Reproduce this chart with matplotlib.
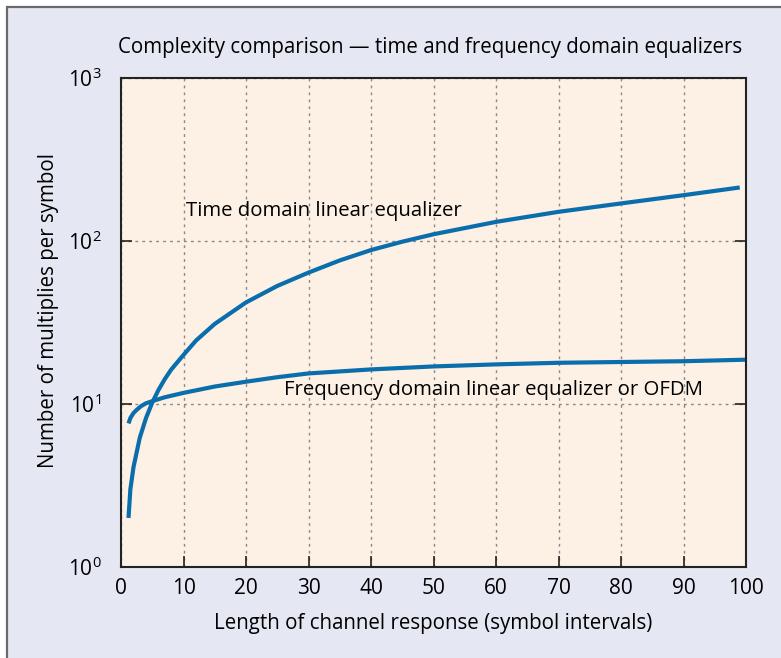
import matplotlib.pyplot as plt
from matplotlib.patches import Rectangle

# channel length (symbol intervals) and multiplies per symbol
time_len = [1.2, 1.5, 2, 3, 4, 5, 6, 7, 8, 10, 12, 15, 20, 25, 30, 35, 40, 45, 50,
            60, 70, 80, 90, 99]
time_mult = [2.0, 3.0, 4.1, 6.2, 8.2, 10.2, 12.2, 14.2, 16.2, 20, 24.5, 31, 42, 53, 64,
             76, 88, 99, 110, 131, 151, 170, 191, 213]

freq_len = [1.2, 1.5, 2.0, 2.5, 3.2, 4.0, 5.3, 7.0, 10, 15, 20, 25, 30, 40, 50, 60,
            70, 80, 90, 100]
freq_mult = [7.6, 8.2, 8.8, 9.2, 9.7, 10.1, 10.5, 11.0, 11.7, 12.8, 13.7, 14.6, 15.4,
             16.3, 17.0, 17.5, 17.9, 18.1, 18.3, 18.7]

x_ticks = [0, 10, 20, 30, 40, 50, 60, 70, 80, 90, 100]
y_ticks = [1, 10, 100, 1000]
y_tick_labels = ['$10^0$', '$10^1$', '$10^2$', '$10^3$']

title = 'Complexity comparison \u2014 time and frequency domain equalizers'
time_label = 'Time domain linear equalizer'
freq_label = 'Frequency domain linear equalizer or OFDM'


def main():
    plt.rcParams['font.family'] = ['Open Sans', 'DejaVu Sans']
    plt.rcParams['mathtext.default'] = 'regular'

    fig = plt.figure(figsize=(7.81, 6.58), dpi=100, facecolor='white')
    bg = Rectangle((7 / 781, -0.1), 1.2, 1.1 - 7 / 658, transform=fig.transFigure,
                   facecolor='#e5e7f3', edgecolor='#6a6a6a', linewidth=1.6, zorder=-10)
    fig.patches.append(bg)

    ax = fig.add_axes([121 / 781, 91 / 658, 625 / 781, 489 / 658])
    ax.set_facecolor('#fdf1e5')

    blue = '#0a6ead'
    ax.plot(time_len, time_mult, color=blue, lw=3, solid_capstyle='butt')
    ax.plot(freq_len, freq_mult, color=blue, lw=3, solid_capstyle='butt')

    ax.set_yscale('log')
    ax.set_xlim(0, 100)
    ax.set_ylim(1, 1000)
    ax.set_xticks(x_ticks)
    ax.set_yticks(y_ticks)
    ax.set_yticklabels(y_tick_labels)
    ax.minorticks_off()
    ax.tick_params(axis='both', direction='in', length=8, width=1.2, labelsize=15,
                   color='#222222')
    ax.tick_params(axis='y', right=True, pad=14)
    ax.tick_params(axis='x', pad=8)
    ax.grid(True, linestyle=(0, (2, 3)), color='#888888', linewidth=1)
    for s in ax.spines.values():
        s.set_linewidth(1.5)
        s.set_color('#222222')

    ax.text(10.4, 152, time_label, fontsize=14.7, va='center', ha='left')
    ax.text(26.1, 12.2, freq_label, fontsize=14.7, va='center', ha='left')

    ax.set_xlabel('Length of channel response (symbol intervals)', fontsize=14.8, labelpad=10)
    ax.set_ylabel('Number of multiplies per symbol', fontsize=14.8)
    ax.yaxis.set_label_coords(-0.099, 0.525)
    fig.text(430 / 781, 1 - 48 / 658, title, fontsize=14.8, ha='center', va='center')

    fig.savefig('out.png', dpi=100, facecolor=fig.get_facecolor())


if __name__ == '__main__':
    main()
